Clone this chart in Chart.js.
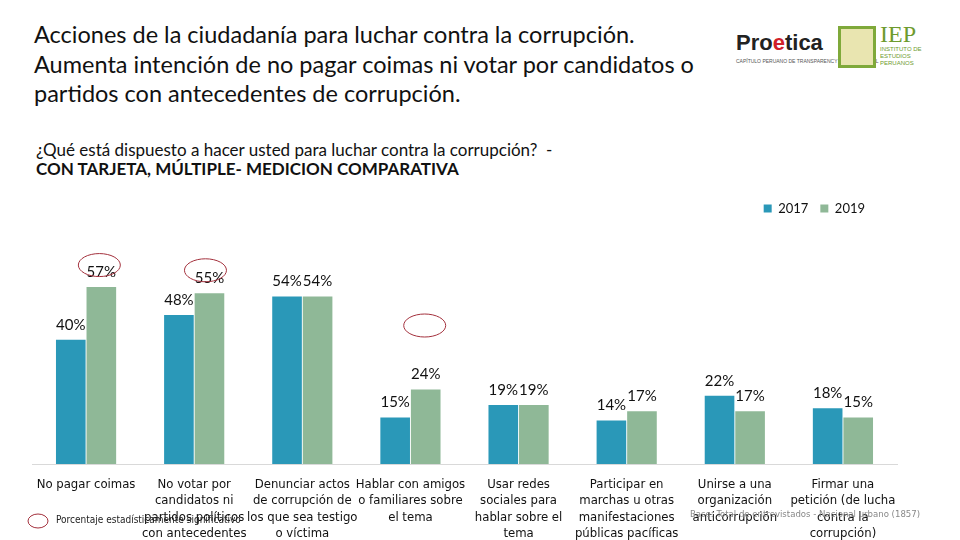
<!DOCTYPE html>
<html lang="es">
<head>
  <meta charset="UTF-8">
  <title>Acciones de la ciudadanía</title>
  <script src="https://cdn.jsdelivr.net/npm/chart.js"></script>
  <style>
    body {
      margin: 0;
      width: 960px;
      height: 540px;
      background: #fff;
      font-family: Lato, sans-serif;
      position: relative;
      overflow: hidden;
    }

    .title {
      position: absolute;
      left: 34px;
      top: 20px;
      font-size: 23.5px;
      line-height: 29.5px;
      color: #111;
    }

    .subtitle {
      position: absolute;
      left: 36px;
      top: 140px;
      font-size: 17px;
      line-height: 19px;
      color: #111;
    }

    .subtitle b { font-weight: bold; }

    .logo-proetica {
      position: absolute;
      left: 736px;
      top: 30px;
      font-family: "Liberation Sans", sans-serif;
      font-weight: bold;
      font-size: 22px;
      color: #222;
    }

    .logo-proetica span { color: #d0202a; }

    .logo-proetica small {
      display: block;
      font-size: 5px;
      font-weight: normal;
      color: #555;
      margin-top: 2px;
    }

    .logo-iep {
      position: absolute;
      left: 838px;
      top: 26px;
      width: 32px;
      height: 36px;
      border: 3px solid #7fa93a;
      background: #e9e5b0;
    }

    .iep-text {
      position: absolute;
      left: 880px;
      top: 22px;
      font-family: "Liberation Serif", serif;
      font-size: 24px;
      color: #6e9b2e;
      line-height: 24px;
    }

    .iep-text small {
      display: block;
      font-family: "Liberation Sans", sans-serif;
      font-size: 6px;
      line-height: 7px;
      color: #6e9b2e;
    }

    #wrap {
      position: absolute;
      left: 0;
      top: 190px;
      width: 960px;
      height: 350px;
    }

    .note {
      position: absolute;
      left: 56px;
      top: 514px;
      font-family: "DejaVu Sans Condensed", sans-serif;
      font-size: 10px;
      color: #222;
    }

    .base {
      position: absolute;
      left: 690px;
      top: 508px;
      font-family: "DejaVu Sans Condensed", sans-serif;
      font-size: 9.5px;
      color: #888;
    }
  </style>
</head>
<body>
  <div class="title">
    Acciones de la ciudadanía para luchar contra la corrupción.<br>
    Aumenta intención de no pagar coimas ni votar por candidatos o<br>
    partidos con antecedentes de corrupción.
  </div>

  <div class="logo-proetica">Pro<span>e</span>tica<small>CAPÍTULO PERUANO DE TRANSPARENCY INTERNATIONAL</small></div>
  <div class="logo-iep"></div>
  <div class="iep-text">IEP<small>INSTITUTO DE<br>ESTUDIOS<br>PERUANOS</small></div>

  <div class="subtitle">
    ¿Qué está dispuesto a hacer usted para luchar contra la corrupción?&nbsp; -<br>
    <b>CON TARJETA, MÚLTIPLE- MEDICION COMPARATIVA</b>
  </div>

  <div id="wrap">
    <canvas id="chart" width="960" height="350"></canvas>
  </div>

  <div class="note">Porcentaje estadísticamente significativo</div>
  <div class="base">Base: Total de entrevistados - Nacional urbano (1857)</div>

  <script>
    const categories = [
      ['No pagar coimas'],
      ['No votar por', 'candidatos ni', 'partidos políticos', 'con antecedentes'],
      ['Denunciar actos', 'de corrupción de', 'los que sea testigo', 'o víctima'],
      ['Hablar con amigos', 'o familiares sobre', 'el tema'],
      ['Usar redes', 'sociales para', 'hablar sobre el', 'tema'],
      ['Participar en', 'marchas u otras', 'manifestaciones', 'públicas pacíficas'],
      ['Unirse a una', 'organización', 'anticorrupción'],
      ['Firmar una', 'petición (de lucha', 'contra la', 'corrupción)']
    ];
    const values2017 = [40, 48, 54, 15, 19, 14, 22, 18];
    const values2019 = [57, 55, 54, 24, 19, 17, 17, 15];
    const seriesNames = ['2017', '2019'];

    const BLUE = '#2a98b8';
    const GREEN = '#8fb897';
    const RED = '#a3303c';

    // value labels above every bar + the red circles that mark significant changes
    const barLabels = {
      id: 'barLabels',
      afterLayout(chart) {
        // nudge the legend a bit to the left, like the original slide
        chart.legend.left -= 20;
        chart.legend.right -= 20;
      },
      afterDatasetsDraw(chart) {
        const ctx = chart.ctx;
        ctx.save();
        ctx.font = '15px Lato, sans-serif';
        ctx.fillStyle = '#111';
        ctx.textAlign = 'center';
        ctx.textBaseline = 'middle';
        chart.data.datasets.forEach((ds, i) => {
          chart.getDatasetMeta(i).data.forEach((bar, j) => {
            ctx.fillText(ds.data[j] + '%', bar.x, bar.y - 15);
          });
        });

        const green = chart.getDatasetMeta(1).data;
        const marks = [[0, -2, -22], [1, -4, -23], [3, -1, -64]];
        ctx.strokeStyle = RED;
        ctx.lineWidth = 1;
        marks.forEach(([idx, dx, dy]) => {
          const b = green[idx];
          ctx.beginPath();
          ctx.ellipse(b.x + dx, b.y + dy, 21, 11.5, 0, 0, Math.PI * 2);
          ctx.stroke();
        });
        // legend mark next to the footnote
        ctx.beginPath();
        ctx.ellipse(38, 331, 10, 7, 0, 0, Math.PI * 2);
        ctx.stroke();
        ctx.restore();
      }
    };

    new Chart(document.getElementById('chart'), {
      type: 'bar',
      data: {
        labels: categories,
        datasets: [
          { label: seriesNames[0], data: values2017, backgroundColor: BLUE },
          { label: seriesNames[1], data: values2019, backgroundColor: GREEN }
        ]
      },
      options: {
        responsive: false,
        animation: false,
        layout: { padding: { left: 32, right: 63, top: 0, bottom: 0 } },
        datasets: {
          bar: { categoryPercentage: 0.565, barPercentage: 0.97 }
        },
        plugins: {
          legend: {
            position: 'top',
            align: 'end',
            labels: {
              boxWidth: 8,
              boxHeight: 8,
              color: '#111',
              font: { family: 'Lato', size: 13 },
              padding: 12
            }
          },
          tooltip: { enabled: false },
          title: { display: false }
        },
        scales: {
          x: {
            grid: { display: false, drawTicks: false },
            border: { display: true, color: '#d9d9d9', width: 1 },
            afterFit(scale) { scale.height = 76; },
            ticks: {
              autoSkip: false,
              maxRotation: 0,
              padding: 12,
              color: '#111',
              font: { family: '"DejaVu Sans Condensed", sans-serif', size: 13, lineHeight: 1.27 }
            }
          },
          y: {
            display: false,
            min: 0,
            max: 77
          }
        }
      },
      plugins: [barLabels]
    });
  </script>
</body>
</html>
